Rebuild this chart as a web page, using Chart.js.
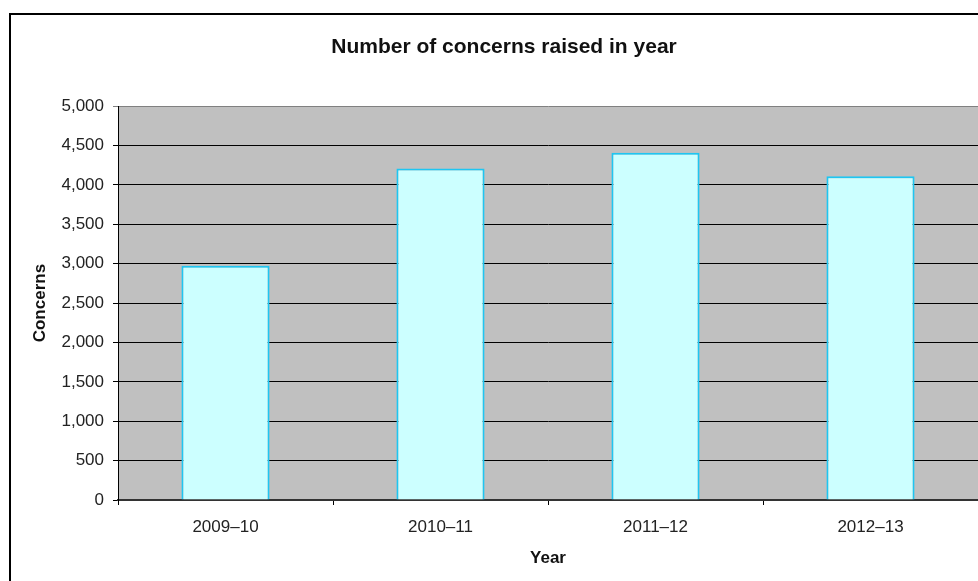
<!DOCTYPE html>
<html>
<head>
<meta charset="utf-8">
<script src="https://cdn.jsdelivr.net/npm/chart.js@4.4.1/dist/chart.umd.min.js"></script>
<style>
  body { margin: 0; background: #fff; overflow: hidden; }
  canvas { display: block; }
</style>
</head>
<body>
<canvas id="grafico" width="978" height="581"></canvas>
<script>
var anos = ["2009–10", "2010–11", "2011–12", "2012–13"];
var concerns = [2975, 4210, 4410, 4110];
var ticksY = [0, 500, 1000, 1500, 2000, 2500, 3000, 3500, 4000, 4500, 5000];

var fonte = "'Liberation Sans', Arial, sans-serif";

// moldura preta e fundo cinza da area do grafico
const fundo = {
    id: 'fundo',
    beforeDraw(chart) {
        const ctx = chart.ctx;
        const a = chart.chartArea;
        ctx.save();
        ctx.fillStyle = '#fff';
        ctx.fillRect(0, 0, chart.width, chart.height);
        ctx.strokeStyle = '#000';
        ctx.lineWidth = 2;
        ctx.strokeRect(10, 14, 2000, 2000);
        ctx.fillStyle = '#c0c0c0';
        ctx.fillRect(a.left, a.top, a.right - a.left, a.bottom - a.top);
        ctx.restore();
    }
};

const data = {
    labels: anos,
    datasets: [{
        label: 'Concerns',
        data: concerns,
        backgroundColor: '#ccffff',
        borderColor: '#1ec6f2',
        borderWidth: 2,
        categoryPercentage: 1,
        barPercentage: 0.41
    }]
};

const config = {
    type: 'bar',
    data: data,
    options: {
        responsive: false,
        animation: false,
        layout: { padding: { left: 30, right: 0, top: 0, bottom: 0 } },
        plugins: {
            legend: { display: false },
            tooltip: { enabled: false },
            title: {
                display: true,
                text: 'Number of concerns raised in year',
                color: '#111',
                font: { family: fonte, size: 21, weight: 'bold' },
                padding: { top: 35, bottom: 46 }
            }
        },
        scales: {
            x: {
                afterFit: function (s) { s.height = 81; },
                grid: {
                    offset: true,
                    drawOnChartArea: false,
                    tickLength: 5,
                    color: '#000'
                },
                border: { color: '#333', width: 2 },
                ticks: {
                    color: '#222',
                    padding: 12,
                    font: { family: fonte, size: 17 }
                },
                title: {
                    display: true,
                    text: 'Year',
                    color: '#111',
                    font: { family: fonte, size: 17, weight: 'bold' },
                    padding: { top: 0, bottom: 12 }
                }
            },
            y: {
                min: 0,
                max: 5000,
                afterFit: function (s) { s.width = 88; },
                afterBuildTicks: function (s) {
                    s.ticks = ticksY.map(function (v) { return { value: v }; });
                },
                grid: {
                    tickLength: 5,
                    color: function (c) { return c.tick && c.tick.value === 5000 ? '#808080' : '#000'; }
                },
                border: { color: '#000', width: 1 },
                ticks: {
                    color: '#222',
                    padding: 9,
                    font: { family: fonte, size: 17 },
                    callback: function (v) { return v.toLocaleString('en-US'); }
                },
                title: {
                    display: true,
                    text: 'Concerns',
                    color: '#111',
                    font: { family: fonte, size: 17, weight: 'bold' },
                    padding: { top: 0, bottom: 0 }
                }
            }
        }
    },
    plugins: [fundo]
};

var meuGrafico = new Chart(document.getElementById('grafico'), config);
</script>
</body>
</html>
